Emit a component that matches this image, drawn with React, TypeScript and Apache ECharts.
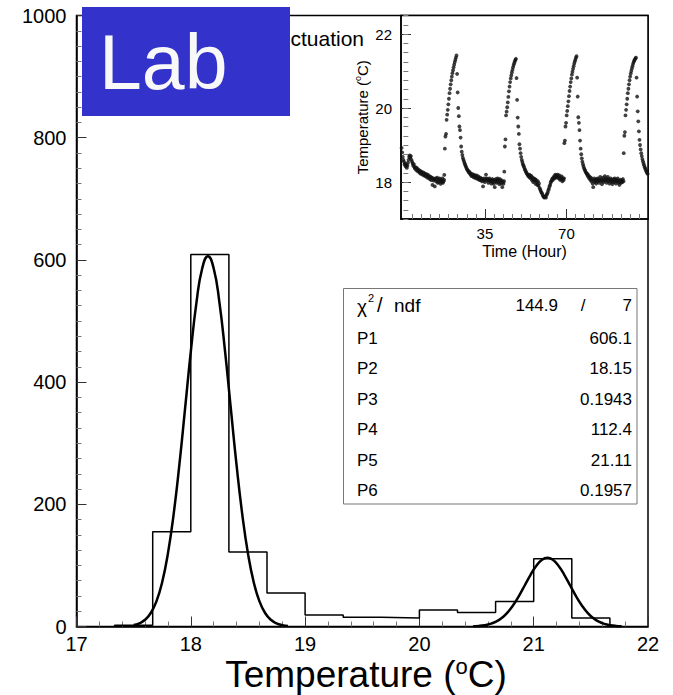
import React, { useEffect, useRef } from "react";
import * as echarts from "echarts";

const FONT = "Liberation Sans, Arial, Helvetica, sans-serif";

// ---------- main histogram ----------
const binStart = 17 + 1 / 3;
const binWidth = 1 / 3;
const histCounts = [2, 155, 609, 122, 55, 19, 15, 14, 27, 23, 41, 111, 14];

// ---------- fit curves ----------
const fit1X = [17.5, 17.55, 17.6, 17.65, 17.7, 17.75, 17.8, 17.85, 17.9, 17.95, 18.0, 18.05, 18.1, 18.15, 18.2, 18.25, 18.3, 18.35, 18.4, 18.45, 18.5, 18.55, 18.6, 18.65, 18.7, 18.75, 18.8, 18.85];
const fit1Y = [2.3, 5.2, 11.0, 22.1, 41.5, 72.8, 119.7, 184.0, 264.8, 356.8, 449.9, 530.9, 586.3, 606.1, 586.3, 530.9, 449.9, 356.8, 264.8, 184.0, 119.7, 72.8, 41.5, 22.1, 11.0, 5.2, 2.3, 0.9];
const fit2X = [20.47, 20.52, 20.57, 20.62, 20.67, 20.72, 20.77, 20.82, 20.87, 20.92, 20.97, 21.02, 21.07, 21.12, 21.17, 21.22, 21.27, 21.32, 21.37, 21.42, 21.47, 21.52, 21.57, 21.62, 21.67, 21.72, 21.77];
const fit2Y = [0.45, 1.0, 2.2, 4.3, 8.0, 13.9, 22.7, 34.7, 49.7, 66.7, 83.8, 98.6, 108.8, 112.4, 108.8, 98.6, 83.8, 66.7, 49.7, 34.7, 22.7, 13.9, 8.0, 4.3, 2.2, 1.0, 0.45];

// ---------- stats box ----------
const chi2Value = "144.9";
const ndfValue = "7";
const parNames = ["P1", "P2", "P3", "P4", "P5", "P6"];
const parValues = ["606.1", "18.15", "0.1943", "112.4", "21.11", "0.1957"];

// ---------- axis ticks ----------
const mainXTicks = [17, 18, 19, 20, 21, 22];
const mainYTicks = [0, 200, 400, 600, 800, 1000];
const insetXLabels = [35, 70];
const insetYLabels = [18, 20, 22];

// ---------- inset time series (hours, sampling 0.25 h) ----------
const insetStep = 0.25;
const seg0Start = -0.75;
const seg0 = [18.92, 18.8, 18.68, 18.6, 18.55, 18.47, 18.5, 18.42, 18.45, 18.38, 18.44, 18.52, 18.6, 18.68, 18.72, 18.65, 18.7, 18.6, 18.55, 18.5, 18.44, 18.48, 18.4, 18.36, 18.4, 18.33, 18.38, 18.3, 18.35, 18.28, 18.32, 18.25, 18.3, 18.22, 18.28, 18.25, 18.2, 18.26, 18.18, 18.24, 18.2, 18.15, 18.22, 18.18, 18.12, 18.2, 18.15, 18.1, 18.16, 18.08, 18.14, 18.05, 18.12, 17.92, 18.1, 18.04, 18.08, 17.88, 18.1, 18.02, 18.06, 18.12, 17.98, 18.08, 18.0, 18.1, 18.04, 17.95, 18.06, 18.0, 18.1, 17.98, 18.02, 18.06];
const cycle1Start = 17.57;
const cycle1 = [18.19, 18.9, 19.23, 19.3, 19.68, 19.82, 19.95, 20.1, 20.25, 20.4, 20.52, 20.64, 20.75, 20.85, 20.94, 21.02, 21.1, 21.17, 21.24, 21.3, 21.36, 21.42, 20.92, 20.42, 20.0, 19.78, 19.5, 19.4, 19.2, 18.96, 18.82, 18.73, 18.65, 18.6, 18.55, 18.5, 18.46, 18.42, 18.38, 18.35, 18.32, 18.3, 18.26, 18.28, 18.22, 18.24];
const flat1Start = 28.97;
const flat1 = [18.2, 18.16, 18.22, 18.18, 18.14, 18.2, 18.12, 18.18, 18.15, 18.1, 18.18, 18.12, 18.08, 18.15, 18.1, 18.05, 18.12, 18.06, 18.1, 18.02, 18.08, 17.88, 18.04, 18.1, 18.0, 18.06, 18.2, 18.1, 18.04, 18.08, 17.98, 18.06, 18.1, 18.02, 18.05, 17.96, 18.04, 18.08, 18.0, 17.95, 18.06, 17.86, 18.02, 18.08, 17.98, 18.04, 18.1, 18.0, 18.06, 17.94, 18.08, 18.02, 17.96, 18.04, 17.86, 18.0, 17.95, 18.02];
const cycle2Start = 43.33;
const cycle2 = [18.28, 18.96, 19.15, 19.8, 19.9, 20.02, 20.15, 20.3, 20.45, 20.58, 20.7, 20.8, 20.88, 20.96, 21.03, 21.1, 21.16, 21.21, 21.26, 21.3, 21.33, 20.81, 20.22, 19.74, 19.5, 19.3, 19.02, 18.9, 18.78, 18.68, 18.6, 18.54, 18.48, 18.44, 18.4, 18.35, 18.32, 18.28, 18.25, 18.22, 18.2, 18.18];
const flat2Start = 53.73;
const flat2 = [18.15, 18.2, 18.12, 18.18, 18.1, 18.16, 18.05, 18.12, 18.0, 18.1, 18.04, 18.08, 17.95, 18.06, 18.0, 17.92, 18.02, 17.9, 17.96, 17.84, 17.8, 17.76, 17.72, 17.7, 17.66, 17.62, 17.6, 17.58, 17.6, 17.62, 17.58, 17.65, 17.68, 17.72, 17.78, 17.82, 17.88, 17.92, 17.98, 18.02, 18.05, 18.1, 18.06, 18.12, 18.16, 18.1, 18.2, 18.14, 18.18, 18.12, 18.2, 18.15, 18.1, 18.18, 18.06, 18.12, 18.08, 18.15, 18.02, 18.1, 18.05, 18.1];
const cycle3Start = 69.09;
const cycle3 = [19.05, 19.12, 19.5, 19.6, 19.8, 19.92, 20.05, 20.18, 20.32, 20.46, 20.58, 20.7, 20.8, 20.9, 20.98, 21.06, 21.13, 21.2, 21.26, 21.31, 21.36, 21.4, 20.82, 20.31, 19.75, 19.6, 19.4, 19.12, 18.9, 18.75, 18.64, 18.55, 18.48, 18.42, 18.37, 18.33, 18.3, 18.26, 18.24, 18.2];
const flat3Start = 78.99;
const flat3 = [18.22, 18.15, 18.18, 18.1, 18.14, 18.06, 18.12, 18.02, 18.08, 17.96, 17.86, 18.04, 18.1, 18.0, 18.06, 17.96, 18.08, 18.02, 18.1, 18.04, 17.98, 18.06, 18.14, 18.02, 18.08, 17.94, 18.04, 18.12, 18.0, 18.06, 18.16, 18.04, 18.1, 17.98, 18.06, 18.14, 18.02, 18.08, 17.96, 18.04, 18.1, 18.0, 18.06, 17.94, 18.02, 18.08, 18.0, 18.1, 18.04, 17.96, 18.06, 18.02, 18.1, 17.98, 18.04, 17.92, 18.0, 18.06, 17.98, 18.04, 18.0, 18.08, 18.02];
const cycle4Start = 94.59;
const cycle4 = [18.78, 19.25, 19.35, 19.8, 19.95, 20.1, 20.25, 20.4, 20.52, 20.64, 20.75, 20.85, 20.93, 21.0, 21.07, 21.13, 21.19, 21.24, 21.28, 21.31, 21.34, 21.36, 20.82, 20.31, 19.91, 19.64, 19.37, 19.14, 19.0, 18.88, 18.78, 18.7, 18.62, 18.56, 18.5, 18.45, 18.4, 18.36, 18.32, 18.28, 18.25, 18.22];

const insetSegments: [number, number[]][] = [
  [seg0Start, seg0], [cycle1Start, cycle1], [flat1Start, flat1], [cycle2Start, cycle2],
  [flat2Start, flat2], [cycle3Start, cycle3], [flat3Start, flat3], [cycle4Start, cycle4],
];

function buildOption() {
  const histOutline: number[][] = [];
  histCounts.forEach((c, i) => {
    const x0 = binStart + i * binWidth;
    const x1 = x0 + binWidth;
    if (i === 0) histOutline.push([x0, 0]);
    histOutline.push([x0, c]);
    histOutline.push([x1, c]);
  });
  histOutline.push([binStart + histCounts.length * binWidth, 0]);

  const insetData: number[][] = [];
  insetSegments.forEach(([s, vals]) => vals.forEach((v, i) => insetData.push([s + i * insetStep, v])));

  const minorX: number[] = [];
  for (let k = 0; k <= 27; k++) if (k % 9 !== 0) minorX.push((k * 35) / 9);

  const rowY = [338, 368.5, 399, 429.5, 460, 490.5];
  const statsEls: any[] = [
    { type: "rect", shape: { x: 343.5, y: 288.5, width: 293.5, height: 215.5 }, style: { fill: "#fff", stroke: "#777", lineWidth: 1 }, z: 60 },
    { type: "text", x: 357, y: 306, style: { text: "χ", fontSize: 19, fontFamily: FONT, fill: "#000", verticalAlign: "middle" }, z: 61 },
    { type: "text", x: 368, y: 298, style: { text: "2", fontSize: 11, fontFamily: FONT, fill: "#000", verticalAlign: "middle" }, z: 61 },
    { type: "text", x: 377, y: 305, style: { text: "/", fontSize: 20, fontFamily: FONT, fill: "#000", verticalAlign: "middle" }, z: 61 },
    { type: "text", x: 394, y: 305, style: { text: "ndf", fontSize: 19, fontFamily: FONT, fill: "#000", verticalAlign: "middle" }, z: 61 },
    { type: "text", x: 558, y: 305, style: { text: chi2Value, fontSize: 17, fontFamily: FONT, fill: "#000", align: "right", verticalAlign: "middle" }, z: 61 },
    { type: "text", x: 583, y: 305, style: { text: "/", fontSize: 17, fontFamily: FONT, fill: "#000", align: "center", verticalAlign: "middle" }, z: 61 },
    { type: "text", x: 632, y: 305, style: { text: ndfValue, fontSize: 17, fontFamily: FONT, fill: "#000", align: "right", verticalAlign: "middle" }, z: 61 },
  ];
  parNames.forEach((n, i) => {
    statsEls.push({ type: "text", x: 357, y: rowY[i], style: { text: n, fontSize: 17, fontFamily: FONT, fill: "#000", verticalAlign: "middle" }, z: 61 });
    statsEls.push({ type: "text", x: 632, y: rowY[i], style: { text: parValues[i], fontSize: 17, fontFamily: FONT, fill: "#000", align: "right", verticalAlign: "middle" }, z: 61 });
  });

  const tickStyle = { color: "#333", width: 1 };
  const minorStyle = { color: "#777", width: 1 };
  const axisLineStyle = { color: "#000", width: 1.5 };

  return {
    animation: false,
    backgroundColor: "#fff",
    textStyle: { fontFamily: FONT },
    grid: [
      { left: 76.5, top: 15.5, width: 571.5, height: 611, show: true, borderColor: "#000", borderWidth: 1.5, backgroundColor: "transparent", outerBoundsMode: "none", containLabel: false },
      { left: 401, top: 15.5, width: 247, height: 203.5, show: true, borderColor: "#000", borderWidth: 1.5, backgroundColor: "#fff", outerBoundsMode: "none", containLabel: false },
    ],
    xAxis: [
      {
        gridIndex: 0, type: "value", min: mainXTicks[0], max: mainXTicks[mainXTicks.length - 1], interval: 1,
        axisLine: { show: true, onZero: false, lineStyle: axisLineStyle },
        axisTick: { show: true, inside: true, length: 10, lineStyle: tickStyle },
        minorTick: { show: true, splitNumber: 5, length: 5, lineStyle: minorStyle },
        splitLine: { show: false }, minorSplitLine: { show: false },
        axisLabel: { fontSize: 20, color: "#000", fontFamily: FONT, margin: 7, formatter: (v: number) => String(v) },
      },
      {
        gridIndex: 1, type: "value", min: -1, max: 105, position: "bottom",
        axisLine: { show: true, onZero: false, lineStyle: axisLineStyle },
        axisTick: { show: true, inside: true, length: 10, customValues: insetXLabels, lineStyle: tickStyle },
        axisLabel: { show: true, customValues: insetXLabels, fontSize: 15, color: "#000", fontFamily: FONT, margin: 7 },
        splitLine: { show: false },
        name: "Time (Hour)", nameLocation: "middle", nameGap: 24,
        nameTextStyle: { fontSize: 16, color: "#000", fontFamily: FONT },
      },
      {
        gridIndex: 1, type: "value", min: -1, max: 105, position: "bottom",
        axisLine: { show: false },
        axisTick: { show: true, inside: true, length: 5, customValues: minorX, lineStyle: minorStyle },
        axisLabel: { show: false }, splitLine: { show: false },
      },
    ],
    yAxis: [
      {
        gridIndex: 0, type: "value", min: mainYTicks[0], max: mainYTicks[mainYTicks.length - 1], interval: 200,
        axisLine: { show: true, onZero: false, lineStyle: axisLineStyle },
        axisTick: { show: true, inside: true, length: 10, lineStyle: tickStyle },
        minorTick: { show: true, splitNumber: 8, length: 5, lineStyle: minorStyle },
        splitLine: { show: false }, minorSplitLine: { show: false },
        axisLabel: { fontSize: 20, color: "#000", fontFamily: FONT, margin: 10, formatter: (v: number) => String(v) },
      },
      {
        gridIndex: 1, type: "value", min: 17, max: 22.5, position: "left",
        axisLine: { show: true, onZero: false, lineStyle: axisLineStyle },
        axisTick: { show: true, inside: true, length: 10, customValues: insetYLabels, lineStyle: tickStyle },
        axisLabel: { show: true, customValues: insetYLabels, fontSize: 15, color: "#000", fontFamily: FONT, margin: 9 },
        splitLine: { show: false },
        name: "Temperature ({sup|o}C)", nameLocation: "middle", nameGap: 27,
        nameTextStyle: {
          fontSize: 15, color: "#000", fontFamily: FONT, lineHeight: 18,
          rich: { sup: { fontSize: 9, lineHeight: 9, verticalAlign: "top", color: "#000", fontFamily: FONT } },
        },
      },
      {
        gridIndex: 1, type: "value", min: 17, max: 22.5, interval: 0.25, position: "left",
        axisLine: { show: false },
        axisTick: { show: true, inside: true, length: 5, lineStyle: minorStyle },
        axisLabel: { show: false }, splitLine: { show: false },
      },
    ],
    series: [
      {
        type: "line", xAxisIndex: 0, yAxisIndex: 0, data: histOutline, symbol: "none",
        lineStyle: { color: "#000", width: 1.5 }, z: 3, silent: true,
      },
      {
        type: "line", xAxisIndex: 0, yAxisIndex: 0, data: fit1X.map((x, i) => [x, fit1Y[i]]), symbol: "none", smooth: true,
        lineStyle: { color: "#000", width: 2.5 }, z: 4, silent: true,
      },
      {
        type: "line", xAxisIndex: 0, yAxisIndex: 0, data: fit2X.map((x, i) => [x, fit2Y[i]]), symbol: "none", smooth: true,
        lineStyle: { color: "#000", width: 2.5 }, z: 4, silent: true,
      },
      {
        type: "scatter", xAxisIndex: 1, yAxisIndex: 1, data: insetData, symbol: "circle", symbolSize: 3.8,
        itemStyle: { color: "#111" }, z: 5, silent: true, clip: true,
      },
    ],
    graphic: [
      { type: "text", x: 364, y: 38, z: 40, style: { text: "ctuation", fontSize: 21, fontFamily: FONT, fill: "#000", align: "right", verticalAlign: "middle" } },
      { type: "rect", z: 50, shape: { x: 82, y: 7, width: 208, height: 109 }, style: { fill: "#3333CC" } },
      { type: "text", x: 99, y: 62, z: 51, style: { text: "Lab", fontSize: 77, fontFamily: FONT, fill: "#f8f8f8", align: "left", verticalAlign: "middle" } },
      {
        type: "text", x: 366, y: 674, z: 40,
        style: {
          text: "Temperature ({sup|o}C)", fontSize: 37, fontFamily: FONT, fill: "#000", align: "center", verticalAlign: "middle",
          rich: { sup: { fontSize: 22, lineHeight: 22, verticalAlign: "top", fill: "#000", fontFamily: FONT } },
        },
      },
      ...statsEls,
    ],
  };
}

export default function App() {
  const ref = useRef<HTMLDivElement>(null);
  useEffect(() => {
    if (!ref.current) return;
    const chart = echarts.init(ref.current, undefined, { renderer: "svg" });
    chart.setOption(buildOption() as any);
    return () => chart.dispose();
  }, []);
  return (
    <div
      ref={ref}
      style={{ position: "fixed", left: 0, top: 0, width: 673, height: 695, background: "#fff" }}
    />
  );
}
